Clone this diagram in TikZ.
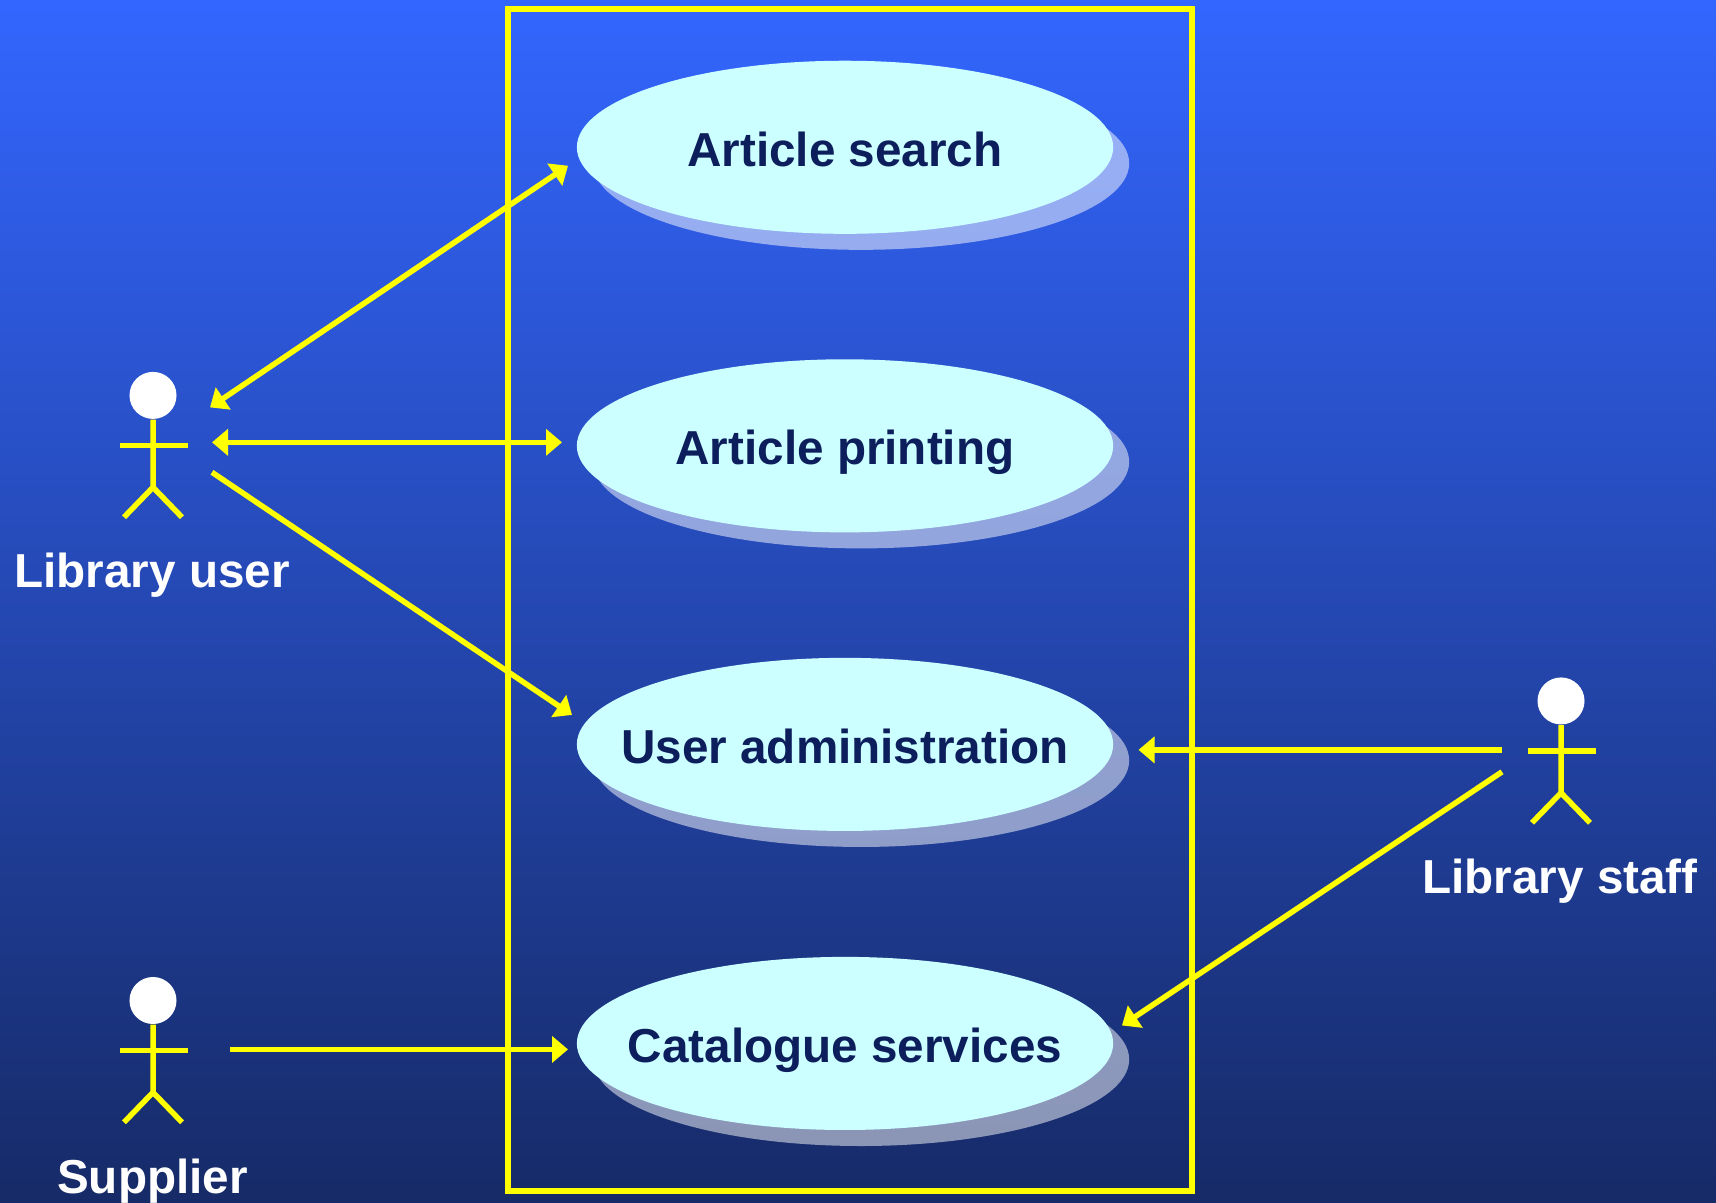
\documentclass[tikz,border=0pt]{standalone}
\usepackage{fontspec}
\setmainfont{Liberation Sans}
\usepackage{tikz}
\usetikzlibrary{arrows.meta}
\usetikzlibrary{shapes.geometric}
\usetikzlibrary{shadows}
\definecolor{bgtop}{RGB}{51,102,255}
\definecolor{bgbottom}{RGB}{22,42,102}
\definecolor{usefill}{RGB}{204,255,255}
\definecolor{usetext}{RGB}{13,30,92}
\definecolor{linecol}{RGB}{255,255,0}
\tikzset{line/.style = {linecol, line width = 0.055cm}}
\tikzset{link/.style = {line, -{Triangle[length = 0.16cm, width = 0.26cm]}}}
\tikzset{linkboth/.style = {line, {Triangle[length = 0.16cm, width = 0.26cm]}-{Triangle[length = 0.16cm, width = 0.26cm]}}}
\tikzset{bigtext/.style = {inner sep = 0, font = \fontsize{13.55pt}{16pt}\selectfont\bfseries}}
\tikzset{usecase/.style = {ellipse, fill = usefill, inner sep = 0,
                           minimum width = 5.36cm, minimum height = 1.73cm,
                           label = {[bigtext, text = usetext, text height = 0.43cm, text depth = 0.05cm]center:#1},
                           general shadow = {shadow xshift = 0.16cm, shadow yshift = -0.16cm, fill = white, opacity = 0.5}}}
\tikzset{head/.style = {fill = white, circle, inner sep = 0, minimum size = 0.47cm}}
\tikzset{actorlabel/.style = {bigtext, anchor = base, text = white}}

\begin{document}
\begin{tikzpicture}[x = 0.01cm, y = -0.00998cm]
    \useasboundingbox (0, 0) rectangle (1716, 1204);
    \shade [top color = bgtop, bottom color = bgbottom] (0, 0) rectangle (1716, 1210);

    \draw [line] (508, 9) rectangle (1192, 1193);

    \node [usecase = Article search] (search) at (845, 147.5) {};
    \node [usecase = Article printing] (printing) at (845, 446.5) {};
    \node [usecase = User administration] (admin) at (845, 745.5) {};
    \node [usecase = Catalogue services] (catalogue) at (845, 1045) {};

    % actors
    \node [head] (user) at (153, 396) {};
    \draw [line] (user.south) -- (153, 488) -- (124, 518);
    \draw [line] (153, 488) -- (182, 518);
    \draw [line] (120, 446) -- (187.5, 446);
    \node [actorlabel] (userlabel) at (152, 588) {Library user};

    \node [head] (staff) at (1561, 702) {};
    \draw [line] (staff.south) -- (1561, 794) -- (1532, 824);
    \draw [line] (1561, 794) -- (1590, 824);
    \draw [line] (1528, 752) -- (1596, 752);
    \node [actorlabel] (stafflabel) at (1560, 895) {Library staff};

    \node [head] (supplier) at (153, 1002) {};
    \draw [line] (supplier.south) -- (153, 1094) -- (124, 1124);
    \draw [line] (153, 1094) -- (182, 1124);
    \draw [line] (120, 1052) -- (187.5, 1052);
    \node [actorlabel] (supplierlabel) at (152.5, 1195) {Supplier};

    % free ends of the connectors
    \coordinate (userA) at (210, 408);
    \coordinate (userB) at (212, 443);
    \coordinate (userC) at (212, 473);
    \coordinate (searchIn) at (568, 166);
    \coordinate (printingIn) at (562, 443);
    \coordinate (adminIn) at (572, 716);
    \coordinate (adminOut) at (1138.5, 751);
    \coordinate (catalogueOut) at (1122, 1027);
    \coordinate (catalogueIn) at (568, 1051);
    \coordinate (staffA) at (1502, 751);
    \coordinate (staffB) at (1502, 773);
    \coordinate (supplierA) at (230, 1051);

    \draw [linkboth] (userA) -- (searchIn);
    \draw [linkboth] (userB) -- (printingIn);
    \draw [link] (userC) -- (adminIn);
    \draw [link] (staffA) -- (adminOut);
    \draw [link] (staffB) -- (catalogueOut);
    \draw [link] (supplierA) -- (catalogueIn);
\end{tikzpicture}
\end{document}
